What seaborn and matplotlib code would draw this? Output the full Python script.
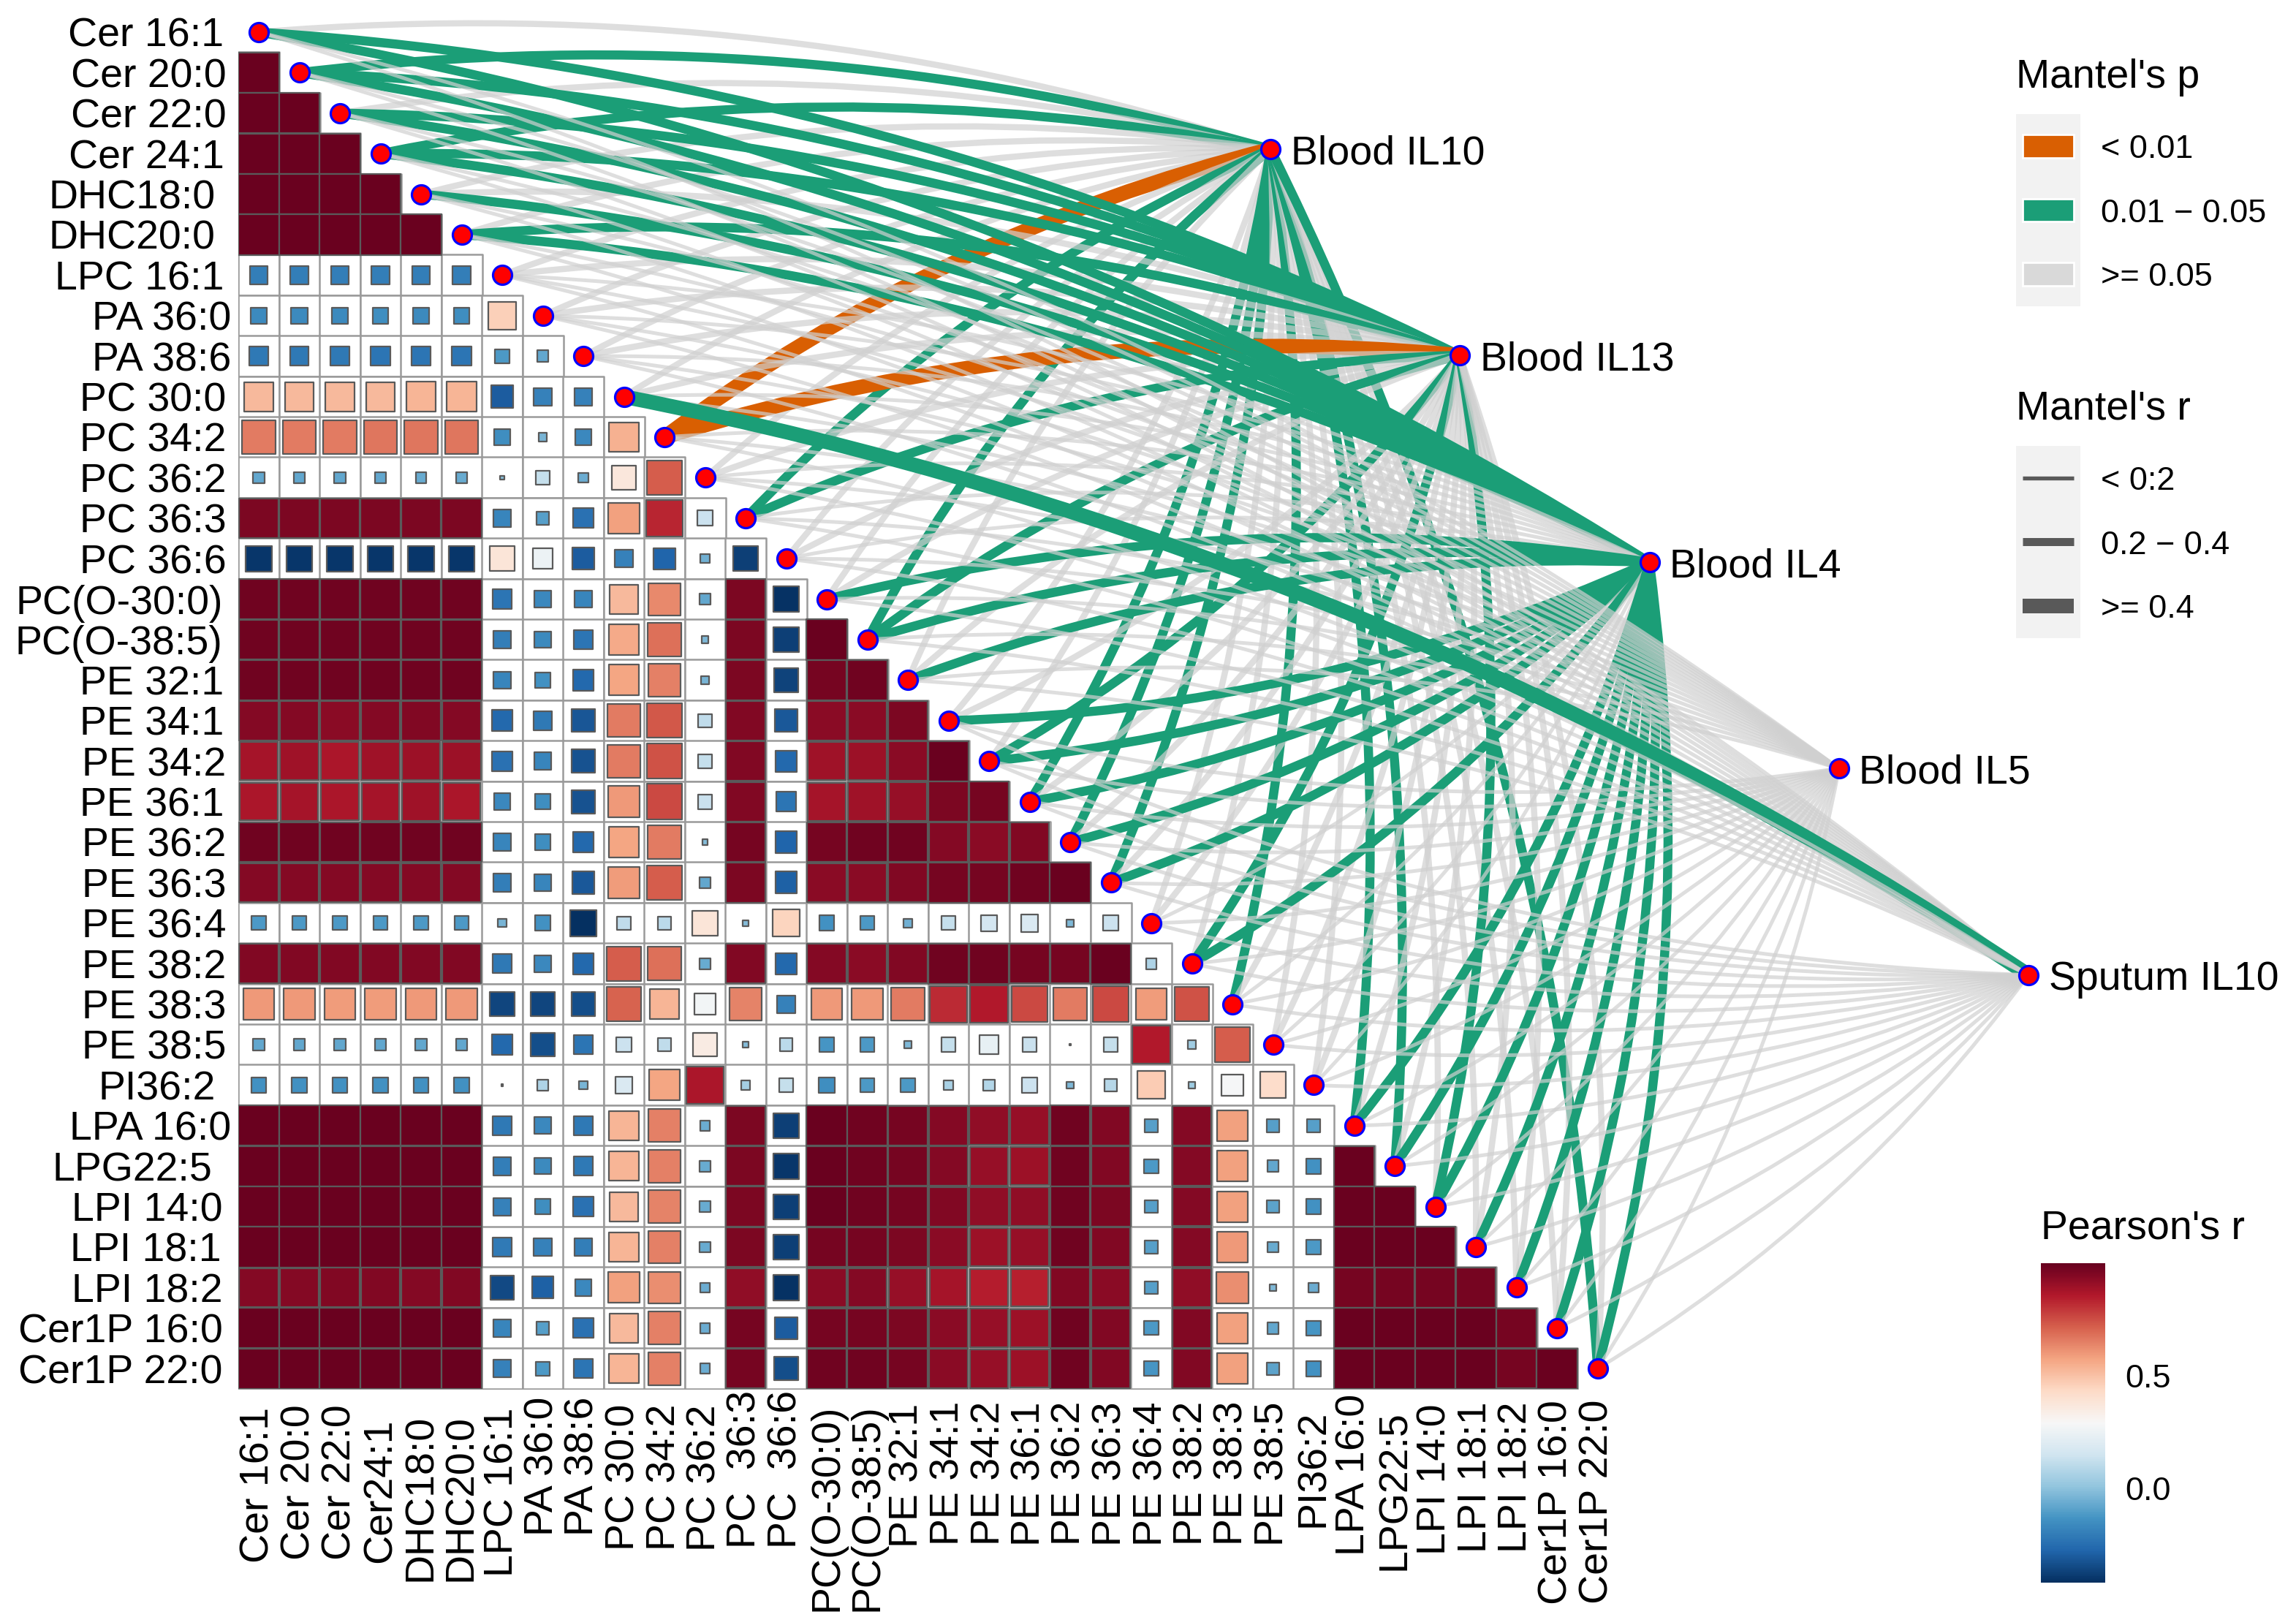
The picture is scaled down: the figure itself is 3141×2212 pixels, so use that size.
import numpy as np
import pandas as pd
import seaborn as sns
import matplotlib.pyplot as plt
from matplotlib.cm import ScalarMappable
from matplotlib.colors import Normalize
from matplotlib.patches import PathPatch
from matplotlib.path import Path
from matplotlib.transforms import ScaledTranslation

W, H = 3141, 2212
DPI = 200
PX = 72 / DPI

row_labels = ['Cer 16:1', 'Cer 20:0', 'Cer 22:0', 'Cer 24:1', 'DHC18:0', 'DHC20:0', 'LPC 16:1', 'PA 36:0', 'PA 38:6',
              'PC 30:0', 'PC 34:2', 'PC 36:2', 'PC 36:3', 'PC 36:6', 'PC(O-30:0)', 'PC(O-38:5)', 'PE 32:1', 'PE 34:1',
              'PE 34:2', 'PE 36:1', 'PE 36:2', 'PE 36:3', 'PE 36:4', 'PE 38:2', 'PE 38:3', 'PE 38:5', 'PI36:2',
              'LPA 16:0', 'LPG22:5', 'LPI 14:0', 'LPI 18:1', 'LPI 18:2', 'Cer1P 16:0', 'Cer1P 22:0']
col_labels = ['Cer 16:1', 'Cer 20:0', 'Cer 22:0', 'Cer24:1', 'DHC18:0', 'DHC20:0', 'LPC 16:1', 'PA 36:0', 'PA 38:6',
              'PC 30:0', 'PC 34:2', 'PC 36:2', 'PC  36:3', 'PC  36:6', 'PC(O-30:0)', 'PC(O-38:5)', 'PE 32:1', 'PE 34:1',
              'PE 34:2', 'PE 36:1', 'PE 36:2', 'PE 36:3', 'PE 36:4', 'PE 38:2', 'PE 38:3', 'PE 38:5', 'PI36:2',
              'LPA 16:0', 'LPG22:5', 'LPI 14:0', 'LPI 18:1', 'LPI 18:2', 'Cer1P 16:0', 'Cer1P 22:0']

# the labels in the original are not quite flush, pixel nudges for each one
row_label_shift = [-3, 0, 0, -3, -15, -15, -3, 7, 7, 0, 0, 0, 0, 0, -5, -5, -3, -3, 0, -3, 0, 0, 0, 0, 0, 0,
                   -15, 7, -19, -5, -7, -5, -5, -5]
col_label_shift = [14, 10, 10, 29, 24, 24, 14, 0, 0, 10, 10, 10, -9, -9, 9, 9, 9, 6, 6, 6, 6, 6, 6, 6, 6, 6,
                   18, -4, 18, 9, 6, 6, 4, 4]

# lower triangle of Pearson's r, one list per row
pearson_r = [
    [],
    [.99],
    [.99, .99],
    [.99, .99, .99],
    [.99, .99, .99, .99],
    [.99, .99, .99, .99, .99],
    [-.20, -.20, -.20, -.20, -.20, -.20],
    [-.16, -.16, -.16, -.15, -.16, -.15, .46],
    [-.22, -.22, -.22, -.23, -.23, -.23, -.12, -.08],
    [.52, .52, .52, .52, .53, .53, -.30, -.19, -.19],
    [.66, .66, .66, .67, .67, .67, -.15, -.04, -.17, .54],
    [-.08, -.08, -.08, -.08, -.07, -.07, -.01, .12, -.06, .37, .72],
    [.96, .96, .96, .96, .96, .96, -.18, -.10, -.24, .58, .83, .14],
    [-.40, -.40, -.40, -.40, -.40, -.40, .38, .25, -.30, -.19, -.28, -.05, -.38],
    [.98, .98, .98, .98, .98, .98, -.23, -.17, -.18, .52, .63, -.08, .96, -.41],
    [.98, .98, .98, .98, .98, .98, -.20, -.16, -.23, .56, .68, -.03, .96, -.38, .99],
    [.98, .98, .98, .98, .98, .98, -.18, -.14, -.27, .57, .65, -.04, .96, -.37, .97, .98],
    [.94, .94, .93, .94, .95, .94, -.27, -.22, -.32, .66, .73, .11, .95, -.31, .93, .93, .96],
    [.88, .89, .87, .89, .90, .90, -.24, -.18, -.33, .66, .74, .12, .95, -.27, .89, .90, .93, .99],
    [.87, .88, .87, .88, .89, .87, -.17, -.15, -.33, .60, .76, .13, .95, -.23, .88, .89, .91, .96, .97],
    [.98, .98, .98, .98, .98, .98, -.18, -.15, -.27, .57, .66, -.02, .97, -.28, .97, .98, .98, .94, .93, .95],
    [.94, .94, .94, .94, .94, .94, -.20, -.18, -.31, .59, .72, -.08, .96, -.29, .93, .93, .95, .97, .97, .98, .99],
    [-.12, -.12, -.12, -.12, -.12, -.12, -.04, -.14, -.42, .11, .10, .38, -.02, .45,
     -.14, -.12, -.05, .12, .16, .18, -.03, .14],
    [.95, .95, .95, .95, .95, .95, -.22, -.17, -.27, .72, .68, -.07, .95, -.27,
     .94, .93, .95, .98, .98, .97, .97, .99, .07],
    [.60, .60, .59, .59, .60, .60, -.36, -.36, -.34, .71, .53, .27, .64, -.19,
     .60, .60, .66, .82, .86, .76, .66, .76, .59, .74],
    [-.08, -.08, -.08, -.08, -.08, -.08, -.27, -.34, -.23, .14, .11, .35, -.02, .10,
     -.13, -.12, -.03, .12, .23, .13, .002, .12, .86, .04, .72],
    [-.14, -.14, -.14, -.14, -.14, -.14, .002, .07, -.04, .18, .57, .87, .05, .12,
     -.15, -.12, -.12, .06, .08, .14, -.03, .09, .47, .03, .28, .42],
    [.99, .99, .99, .99, .99, .99, -.22, -.17, -.22, .53, .65, -.06, .96, -.38,
     .99, .98, .97, .94, .92, .91, .98, .95, -.10, .94, .58, -.10, -.10],
    [.99, .99, .99, .99, .99, .99, -.20, -.16, -.22, .53, .65, -.07, .96, -.40,
     .99, .98, .97, .94, .91, .90, .98, .95, -.12, .94, .58, -.08, -.14, .99],
    [.99, .99, .99, .99, .99, .99, -.19, -.15, -.24, .52, .64, -.07, .96, -.38,
     .99, .98, .97, .95, .92, .92, .98, .96, -.10, .94, .58, -.09, -.14, .99, .99],
    [.99, .99, .99, .99, .99, .99, -.21, -.19, -.20, .53, .65, -.07, .96, -.38,
     .97, .97, .96, .93, .90, .91, .98, .95, -.10, .94, .60, -.07, -.12, .99, .99, .99],
    [.94, .94, .95, .95, .94, .95, -.35, -.29, -.17, .58, .62, -.06, .92, -.41,
     .93, .94, .91, .88, .85, .84, .95, .93, -.10, .92, .62, -.03, -.06, .97, .97, .97, .97],
    [.99, .99, .99, .99, .99, .99, -.18, -.10, -.24, .52, .65, -.06, .97, -.30,
     .97, .97, .96, .93, .91, .90, .98, .95, -.12, .95, .58, -.08, -.13, .99, .99, .99, .99, .97],
    [.99, .99, .99, .99, .99, .99, -.19, -.12, -.23, .53, .65, -.06, .97, -.34,
     .98, .98, .97, .93, .91, .90, .98, .95, -.13, .95, .58, -.09, -.14, .99, .99, .99, .99, .97, .99],
]

env_labels = ['Blood IL10', 'Blood IL13', 'Blood IL4', 'Blood IL5', 'Sputum IL10']
env_x = [25.44, 30.10, 34.78, 39.45, 44.12]
env_y = [3.39, 8.48, 13.59, 18.68, 23.78]

# Mantel's p class per lipid: 0 is < 0.01, 1 is 0.01 - 0.05, 2 is >= 0.05
il10_p = [2, 1, 2, 1, 2, 2, 2, 2, 2, 2, 0, 2, 1, 2, 2, 1, 2, 2, 2, 1, 1, 1, 2, 2, 1, 2, 2, 1, 1, 2, 2, 2, 2, 1]
il13_p = [1, 1, 1, 1, 2, 1, 2, 2, 2, 2, 0, 2, 1, 2, 2, 1, 2, 2, 1, 2, 2, 2, 2, 1, 2, 2, 2, 2, 2, 1, 2, 2, 2, 2]
il4_p = [1, 1, 1, 1, 1, 1, 2, 2, 2, 2, 2, 2, 2, 2, 1, 1, 1, 1, 1, 1, 1, 1, 2, 1, 2, 2, 2, 1, 1, 1, 1, 1, 1, 1]
il5_p = [2, 2, 2, 2, 2, 2, 2, 2, 2, 2, 2, 2, 2, 2, 2, 2, 2, 2, 2, 2, 2, 2, 2, 2, 2, 2, 2, 2, 2, 2, 2, 2, 2, 2]
sputum_p = [2, 2, 2, 2, 2, 2, 2, 2, 2, 1, 2, 2, 2, 2, 2, 2, 2, 2, 2, 2, 2, 2, 2, 2, 2, 2, 2, 2, 2, 2, 2, 2, 2, 2]

# Mantel's r class per lipid: 0 is < 0.2, 1 is 0.2 - 0.4, 2 is >= 0.4
il10_r = [1, 1, 1, 1, 1, 1, 1, 1, 1, 1, 2, 1, 1, 1, 1, 1, 1, 1, 1, 1, 1, 1, 1, 1, 1, 1, 1, 1, 1, 1, 1, 1, 1, 1]
il13_r = [1, 1, 1, 1, 1, 1, 1, 1, 1, 1, 2, 1, 1, 1, 1, 1, 1, 1, 1, 1, 1, 1, 1, 1, 1, 1, 1, 1, 1, 1, 1, 1, 1, 1]
il4_r = [1, 1, 1, 1, 1, 1, 0, 0, 0, 0, 0, 0, 0, 0, 1, 1, 1, 1, 1, 1, 1, 1, 0, 1, 0, 0, 0, 1, 1, 1, 1, 1, 1, 1]
il5_r = [0, 0, 0, 0, 0, 0, 0, 0, 0, 0, 0, 0, 0, 0, 0, 0, 0, 0, 0, 0, 0, 0, 0, 0, 0, 0, 0, 0, 0, 0, 0, 0, 0, 0]
sputum_r = [0, 0, 0, 0, 0, 0, 0, 0, 0, 2, 0, 0, 0, 0, 0, 0, 0, 0, 0, 0, 0, 0, 0, 0, 0, 0, 0, 0, 0, 0, 0, 0, 0, 0]

p_legend = ['< 0.01', '0.01 \u2212 0.05', '>= 0.05']
r_legend = ['< 0:2', '0.2 \u2212 0.4', '>= 0.4']
p_colors = ['#D95F02', '#1B9E77', '#D9D9D9']
r_widths = [5.4, 11, 20]
# coloured links read a bit heavier than the grey ones in the original
link_widths = [5.4, 12.5, 20]
grey_widths = [5.0, 8.5, 11]

sns.set_theme(style='white')
plt.rcParams['font.family'] = ['Liberation Sans', 'DejaVu Sans']
plt.rcParams['text.color'] = 'black'
plt.rcParams['axes.titlecolor'] = 'black'
plt.rcParams['xtick.color'] = 'black'
plt.rcParams['ytick.color'] = 'black'
LABEL_SIZE = 20


def px_axes(fig, x0, y0, x1, y1):
    return fig.add_axes([x0 / W, 1 - y1 / H, (x1 - x0) / W, (y1 - y0) / H])


def draw_matrix(ax):
    n = len(row_labels)
    mask = np.triu(np.ones((n, n), dtype=bool))
    sns.heatmap(np.zeros((n, n)), mask=mask, cmap=['white'], vmin=0, vmax=1, cbar=False,
                xticklabels=col_labels, yticklabels=row_labels, ax=ax)
    ax.tick_params(axis='x', length=0, pad=4, labelsize=LABEL_SIZE, labelrotation=90)
    ax.tick_params(axis='y', length=0, pad=6, labelsize=LABEL_SIZE, labelrotation=0)

    cells = []
    for i, row in enumerate(pearson_r):
        assert len(row) == i, i
        for j, r in enumerate(row):
            cells.append({'x': j + 0.5, 'y': i + 0.5, 'r': r, 'area': abs(r)})
    cells = pd.DataFrame(cells)
    side = 55.4 * PX

    # empty cell frames first, then the sized squares on top
    sns.scatterplot(data=cells, x='x', y='y', s=side ** 2, color='white', marker='s',
                    edgecolor='#9a9a9a', linewidth=0.9, legend=False, zorder=1, ax=ax)
    sns.scatterplot(data=cells, x='x', y='y', hue='r', size='area', palette='RdBu_r',
                    hue_norm=Normalize(-0.42, 1.0), sizes=(0, side ** 2), size_norm=(0, 1),
                    marker='s', edgecolor='#5a5a5a', linewidth=0.8, legend=False, zorder=2, ax=ax)
    ax.set_xlabel('')
    ax.set_ylabel('')
    ax.set_xlim(0, n)
    ax.set_ylim(n, 0)

    for label, shift in zip(ax.get_yticklabels(), row_label_shift):
        label.set_va('center_baseline')
        label.set_transform(label.get_transform() + ScaledTranslation(shift / DPI, 0, ax.figure.dpi_scale_trans))
    for label, shift in zip(ax.get_xticklabels(), col_label_shift):
        label.set_transform(label.get_transform() + ScaledTranslation(0, -shift / DPI, ax.figure.dpi_scale_trans))


def draw_links(ax):
    env_p = [il10_p, il13_p, il4_p, il5_p, sputum_p]
    env_r = [il10_r, il13_r, il4_r, il5_r, sputum_r]
    n = len(row_labels)
    for e in range(len(env_labels)):
        for i in range(n):
            x0, y0 = i + 0.5, i + 0.5
            x1, y1 = env_x[e], env_y[e]
            # upper half of the diagonal bends one way, lower half the other
            bend = 0.10 if i < n / 2 else -0.10
            cx = (x0 + x1) / 2 + bend * (y1 - y0)
            cy = (y0 + y1) / 2 - bend * (x1 - x0)
            p = env_p[e][i]
            width = grey_widths[env_r[e][i]] if p == 2 else link_widths[env_r[e][i]]
            path = Path([(x0, y0), (cx, cy), (x1, y1)], [Path.MOVETO, Path.CURVE3, Path.CURVE3])
            ax.add_patch(PathPatch(path, fill=False, edgecolor='#d0d0d0' if p == 2 else p_colors[p],
                                   alpha=0.7 if p == 2 else 1.0, linewidth=width * PX,
                                   capstyle='butt', clip_on=False, zorder=3))


def draw_nodes(ax):
    n = len(row_labels)
    nodes_x = [i + 0.5 for i in range(n)] + env_x
    nodes_y = [i + 0.5 for i in range(n)] + env_y
    sns.scatterplot(x=nodes_x, y=nodes_y, s=(26 * PX) ** 2, color='#FF0000', edgecolor='#0000FF',
                    linewidth=3.2 * PX, clip_on=False, zorder=4, legend=False, ax=ax)
    ax.set_xlim(0, n)
    ax.set_ylim(n, 0)
    for label, x, y in zip(env_labels, env_x, env_y):
        ax.text(x + 0.5, y, label, ha='left', va='center_baseline', fontsize=LABEL_SIZE, zorder=5)


def style_key(ax, labels, title):
    ax.set_facecolor('#F2F2F2')
    ax.set_xlim(0, 1)
    ax.set_ylim(len(labels) - 0.5, -0.5)
    ax.set_xticks([])
    ax.set_yticks(range(len(labels)))
    ax.set_yticklabels(labels)
    ax.yaxis.tick_right()
    ax.tick_params(axis='y', length=0, pad=10, labelsize=16.2)
    sns.despine(ax=ax, left=True, bottom=True)
    ax.set_title(title, loc='left', fontsize=LABEL_SIZE, pad=13)


def draw_legends(fig):
    ax_p = px_axes(fig, 2758, 156, 2846, 419)
    ax_p.barh(range(3), 0.795, left=0.1, height=0.365, color=p_colors)
    style_key(ax_p, p_legend, "Mantel's p")

    ax_r = px_axes(fig, 2758, 610, 2846, 873)
    ax_r.hlines(range(3), 0.1, 0.895, colors='#595959', linewidths=[w * PX for w in r_widths], capstyle='butt')
    style_key(ax_r, r_legend, "Mantel's r")

    cax = px_axes(fig, 2791.5, 1728, 2879.5, 2165)
    sm = ScalarMappable(norm=Normalize(-0.42, 1.0), cmap='RdBu_r')
    cb = fig.colorbar(sm, cax=cax, ticks=[0.0, 0.5])
    cb.ax.set_yticklabels(['0.0', '0.5'])
    cb.outline.set_visible(False)
    cax.tick_params(axis='y', left=True, right=True, direction='in', color='white', length=6.5, width=0.5,
                    pad=10, labelsize=16.2)
    cax.set_title("Pearson's r", loc='left', fontsize=LABEL_SIZE, pad=12)


if __name__ == '__main__':
    fig = plt.figure(figsize=(W / DPI, H / DPI), dpi=DPI)
    ax = px_axes(fig, 326.25, 16.3, 326.25 + 34 * 55.5, 16.3 + 34 * 55.4)
    draw_matrix(ax)
    draw_links(ax)
    draw_nodes(ax)
    draw_legends(fig)
    fig.savefig('out.png', dpi=DPI)
